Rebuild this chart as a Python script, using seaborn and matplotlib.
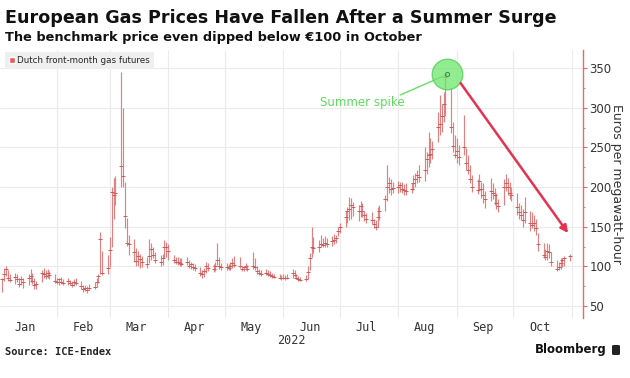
import pandas as pd
import matplotlib
matplotlib.use("Agg")
import matplotlib.pyplot as plt
import matplotlib.dates as mdates
from matplotlib.patches import Patch, FancyBboxPatch
from matplotlib.ticker import MultipleLocator
import seaborn as sns

# Dutch TTF front-month futures, daily bars (Jan 3 - Oct 31, 2022), EUR/MWh
days = pd.bdate_range("2022-01-03", "2022-10-31")

low = [
    68, 82, 88, 82, 80, 78, 80, 74, 76, 73, 76, 80, 78, 72, 71, 80, 85, 84, 86, 84, 79,  # Jan
    78, 77, 78, 76, 77, 76, 74, 75, 76, 72, 68, 69, 67, 70, 71, 74, 79, 90, 89, 90,  # Feb
    99, 125, 160, 178, 200, 200, 148, 126, 115, 105, 100, 101, 98, 99, 98, 104, 108, 110, 104, 101, 102, 110, 112,  # Mar
    108, 104, 103, 102, 101, 100, 102, 98, 97, 95, 94, 88, 85, 87, 92, 94, 93, 94, 102, 97, 96,  # Apr
    95, 96, 95, 98, 99, 98, 94, 94, 96, 94, 97, 96, 91, 89, 88, 89, 88, 87, 86, 85, 84, 83,  # May
    84, 83, 84, 86, 87, 84, 82, 81, 82, 84, 95, 112, 117, 118, 124, 124, 125, 124, 126, 128, 129, 138,  # Jun
    142, 150, 155, 158, 160, 163, 157, 162, 162, 157, 155, 153, 148, 146, 150, 158, 170, 183, 192, 190, 192,  # Jul
    192, 194, 192, 190, 190, 192, 196, 200, 205, 206, 208, 216, 225, 230, 235, 257, 266, 270, 282, 290, 268, 244, 237,  # Aug
    230, 228, 240, 222, 216, 205, 194, 191, 195, 186, 180, 174, 183, 185, 178, 172, 168, 178, 195, 190, 185, 183,  # Sep
    165, 160, 158, 150, 155, 145, 148, 145, 140, 120, 110, 108, 108, 110, 100, 94, 95, 97, 99, 101, 107,  # Oct
]
high = [
    86, 98, 101, 96, 90, 92, 90, 86, 88, 86, 90, 97, 92, 85, 82, 96, 98, 95, 97, 94, 90,
    86, 86, 87, 84, 85, 83, 82, 84, 85, 81, 77, 76, 75, 78, 80, 86, 90, 143, 120, 115,
    137, 200, 211, 214, 345, 300, 206, 161, 140, 134, 123, 120, 116, 113, 112, 134, 130, 124, 118, 114, 116, 133, 131,
    128, 115, 112, 112, 111, 110, 112, 108, 106, 104, 103, 99, 96, 98, 106, 104, 103, 106, 129, 112, 104,
    104, 103, 105, 110, 113, 112, 100, 101, 104, 102, 118, 110, 100, 97, 95, 97, 95, 94, 92, 91, 90, 89,
    90, 89, 90, 97, 96, 90, 88, 87, 89, 100, 117, 150, 137, 133, 139, 136, 138, 136, 138, 141, 140, 150,
    155, 170, 175, 187, 186, 181, 178, 182, 180, 170, 167, 168, 160, 158, 175, 178, 190, 228, 213, 210, 206,
    208, 207, 206, 204, 205, 205, 215, 218, 222, 228, 250, 244, 270, 262, 258, 295, 316, 305, 320, 343, 325, 282, 266,
    262, 253, 291, 249, 240, 228, 215, 210, 216, 206, 205, 195, 211, 205, 199, 192, 185, 210, 216, 212, 206, 200,
    192, 180, 177, 172, 187, 170, 168, 165, 160, 142, 130, 122, 129, 128, 118, 108, 106, 110, 111, 113, 116,
]
close = [
    84, 91, 97, 86, 83, 87, 84, 78, 84, 80, 85, 88, 82, 76, 78, 92, 90, 88, 92, 89, 82,
    80, 84, 80, 79, 81, 79, 77, 80, 79, 75, 71, 73, 70, 73, 74, 80, 88, 134, 92, 98,
    121, 194, 190, 192, 227, 214, 164, 130, 128, 118, 107, 113, 109, 105, 103, 113, 122, 114, 108, 106, 110, 125, 124,
    120, 108, 106, 105, 104, 103, 106, 100, 103, 99, 98, 92, 90, 94, 100, 98, 97, 100, 108, 101, 99,
    99, 98, 100, 104, 102, 101, 97, 99, 100, 97, 100, 99, 94, 92, 90, 92, 90, 89, 88, 87, 86, 86,
    86, 85, 86, 92, 89, 86, 84, 83, 84, 93, 110, 124, 123, 124, 128, 127, 130, 128, 132, 133, 136, 144,
    150, 162, 170, 172, 178, 175, 170, 176, 170, 165, 160, 158, 154, 150, 162, 170, 185, 200, 205, 198, 199,
    200, 202, 198, 196, 195, 198, 205, 210, 215, 213, 222, 235, 240, 242, 248, 276, 280, 290, 305, 339, 276, 252, 240,
    246, 238, 250, 230, 222, 210, 200, 196, 208, 198, 190, 185, 195, 192, 190, 180, 176, 200, 205, 200, 192, 190,
    175, 168, 165, 158, 168, 155, 152, 155, 148, 128, 115, 112, 120, 118, 106, 97, 99, 104, 108, 110, 113,
]
assert len(low) == len(high) == len(close) == len(days)

df = pd.DataFrame({"date": days, "low": low, "high": high, "close": close})

bar_color = "#e08282"
tick_color = "#cc5a5a"
axis_red = "#e46b6b"

sns.set_theme(style="white")
plt.rcParams["font.family"] = ["DejaVu Sans"]

fig = plt.figure(figsize=(6.3, 3.78), dpi=100)
ax = fig.add_axes([0.0, 1 - 318 / 378, 583 / 630, 268 / 378])

# high-low bars plus close ticks
ax.vlines(df["date"], df["low"], df["high"], colors=bar_color, linewidth=0.85)
sns.lineplot(data=df, x="date", y="close", linestyle="", marker="_", markersize=2.8,
             markeredgewidth=0.7, markeredgecolor=tick_color, color=tick_color,
             ax=ax, legend=False)

ax.set_xlim(pd.Timestamp("2022-01-01 19:00"), pd.Timestamp("2022-11-06 22:00"))
ax.set_ylim(35, 372.7)

# axes look
for s in ["left", "top", "bottom"]:
    ax.spines[s].set_visible(False)
ax.spines["right"].set_color(axis_red)
ax.spines["right"].set_linewidth(1.0)
ax.yaxis.tick_right()
ax.yaxis.set_major_locator(MultipleLocator(50))
ax.yaxis.set_minor_locator(MultipleLocator(25))
ax.tick_params(axis="y", which="major", direction="out", length=3, width=0.8,
               color=axis_red, labelcolor="#333333", labelsize=8.5, pad=1.5)
ax.tick_params(axis="y", which="minor", direction="out", length=1.5, width=0.6, color=axis_red)
ax.set_yticks([50, 100, 150, 200, 250, 300, 350])

ax.xaxis.set_major_locator(mdates.MonthLocator(bymonthday=15))
ax.xaxis.set_major_formatter(mdates.DateFormatter("%b"))
ax.xaxis.set_minor_locator(mdates.MonthLocator(bymonthday=1))
ax.tick_params(axis="x", which="both", length=0, labelsize=8.5, labelcolor="#333333", pad=2)
for lab in ax.get_xticklabels():
    lab.set_family("DejaVu Sans Mono")

ax.grid(axis="y", which="major", color="#ebebeb", linewidth=0.8)
ax.grid(axis="x", which="minor", color="#ebebeb", linewidth=0.8)
ax.grid(axis="x", which="major", visible=False)
ax.set_axisbelow(True)
ax.set_xlabel("")
ax.yaxis.set_label_position("right")
ax.set_ylabel("Euros per megawatt-hour", rotation=270, fontsize=9, color="#333333",
              va="center", ha="center")
ax.yaxis.set_label_coords(616 / 583, 0.5)

ax.text(0.5, -0.085, "2022", transform=ax.transAxes, ha="center", va="center",
        fontsize=8.5, color="#333333", family="DejaVu Sans Mono")

ax.legend(handles=[Patch(facecolor="#ea5a5a", label="Dutch front-month gas futures")],
          loc="upper left", bbox_to_anchor=(0.008, 0.993), frameon=True, fancybox=False,
          facecolor="#efefef", edgecolor="none", framealpha=1, fontsize=6.3,
          handlelength=0.7, handleheight=0.7, handletextpad=0.3, borderpad=0.45,
          borderaxespad=0)

# annotations
peak_day = pd.Timestamp("2022-08-27")
ax.plot([pd.Timestamp("2022-08-02"), peak_day], [316, 342], color="#66dd66", linewidth=1)
ax.plot(peak_day, 342, marker="o", markersize=22, markerfacecolor="#6ee66e",
        markeredgecolor="#4fcf4f", alpha=0.75)
ax.plot(peak_day, 342, marker="o", markersize=3, markerfacecolor="none",
        markeredgecolor="#557755", markeredgewidth=0.7)
ax.text(pd.Timestamp("2022-07-13"), 306, "Summer spike", color="#5bdc5b",
        fontsize=8.5, ha="center", va="center")
ax.annotate("", xy=(pd.Timestamp("2022-10-30"), 142), xytext=(pd.Timestamp("2022-09-03"), 331),
            arrowprops=dict(arrowstyle="-|>", color="#e3334f", lw=1.8, mutation_scale=11,
                            shrinkA=0, shrinkB=0))

# titles and footer
fig.text(5 / 630, 1 - 18 / 378, "European Gas Prices Have Fallen After a Summer Surge",
         fontsize=12.6, weight="bold", va="center", color="#111111")
fig.text(5 / 630, 1 - 38 / 378, "The benchmark price even dipped below €100 in October",
         fontsize=9.3, weight="bold", va="center", color="#111111")
fig.text(5 / 630, 1 - 352 / 378, "Source: ICE-Endex", fontsize=7.5, weight="bold",
         va="center", family="DejaVu Sans Mono", color="#222222")
fig.text(607 / 630, 1 - 350 / 378, "Bloomberg", fontsize=8.5, weight="bold",
         ha="right", va="center", color="#111111")
fig.patches.append(FancyBboxPatch((612 / 630, 1 - 355 / 378), 8 / 630, 10 / 378,
                                  boxstyle="round,pad=0,rounding_size=0.003",
                                  transform=fig.transFigure, facecolor="#222222",
                                  edgecolor="none"))

fig.savefig("out.png", dpi=100, facecolor="white")
